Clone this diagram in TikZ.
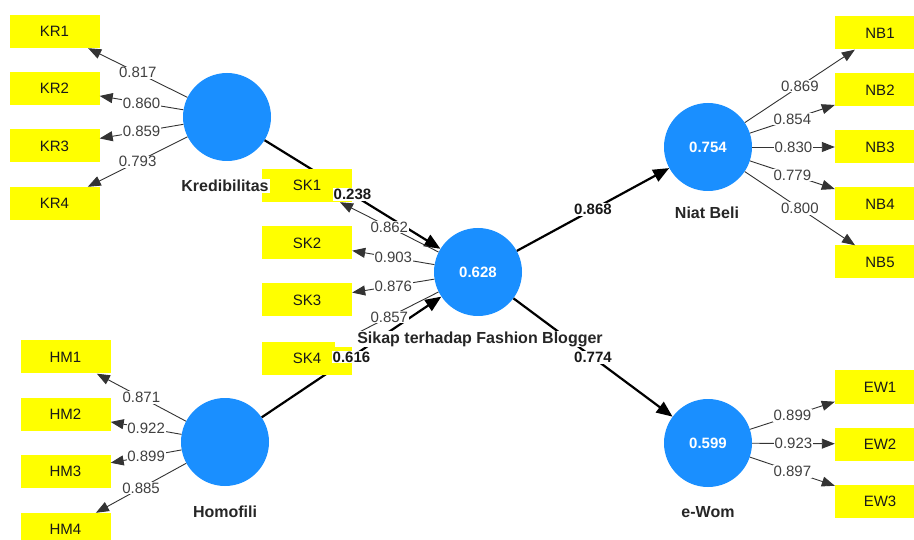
\documentclass[tikz,border=0pt]{standalone}
\usepackage{fontspec}
\setmainfont{Liberation Sans}
\usetikzlibrary{arrows.meta}
\definecolor{lvblue}{HTML}{1A8FFF}
\definecolor{mvyellow}{HTML}{FFFF00}
\begin{document}
\begin{tikzpicture}[x=1pt,y=-1pt,
 ind/.style={fill=mvyellow, minimum width=90pt, minimum height=33pt, inner sep=0pt, text=black!90, font=\fontsize{15}{18}\selectfont},
 lv/.style={circle, fill=lvblue, minimum size=88pt, inner sep=0pt, text=white, font=\bfseries\fontsize{15}{18}\selectfont},
 lvlabel/.style={fill=white, inner sep=1.5pt, text=black!85, font=\bfseries\fontsize{16}{19}\selectfont},
 loadarrow/.style={draw=black!80, line width=0.9pt, -{Triangle[length=13pt,width=10pt]}},
 loadlab/.style={fill=white, inner sep=0.8pt, text=black!75, font=\fontsize{15}{18}\selectfont},
 innerarrow/.style={draw=black, line width=2.2pt, -{Triangle[length=16pt,width=13pt]}},
 innerlab/.style={fill=white, inner sep=1pt, text=black!90, font=\bfseries\fontsize{15}{18}\selectfont}]
\useasboundingbox[fill=white] (0,0) rectangle (914,540);

% latent variables
\node[lv] (kred) at (227,117) {};
\node[lv] (hom) at (225,442) {};
\node[lv] (sik) at (478,272) {0.628};
\node[lv] (nb) at (708,147) {0.754};
\node[lv] (ew) at (708,443) {0.599};

% inner model lines (under the boxes)
\draw[innerarrow] (kred) -- (sik);
\draw[innerarrow] (hom) -- (sik);
\draw[innerarrow] (sik) -- (nb);
\draw[innerarrow] (sik) -- (ew);

% indicator boxes
\node[ind] (kr1) at (54.5,31.5) {KR1};
\node[ind] (kr2) at (54.5,88.5) {KR2};
\node[ind] (kr3) at (54.5,146) {KR3};
\node[ind] (kr4) at (54.5,203.5) {KR4};
\node[ind] (hm1) at (65.5,357) {HM1};
\node[ind] (hm2) at (65.5,414) {HM2};
\node[ind] (hm3) at (65.5,471) {HM3};
\node[ind] (hm4) at (65.5,529.5) {HM4};
\node[ind] (sk1) at (307,185.5) {SK1};
\node[ind] (sk2) at (307,243) {SK2};
\node[ind] (sk3) at (307,300) {SK3};
\node[ind] (sk4) at (307,358.5) {SK4};
\node[ind] (nb1) at (880,33) {NB1};
\node[ind] (nb2) at (880,90) {NB2};
\node[ind] (nb3) at (880,147) {NB3};
\node[ind] (nb4) at (880,204) {NB4};
\node[ind] (nb5) at (880,262) {NB5};
\node[ind] (ew1) at (880,387) {EW1};
\node[ind] (ew2) at (880,444) {EW2};
\node[ind] (ew3) at (880,501) {EW3};

% outer loadings
\draw[loadarrow] (kred) -- node[loadlab]{0.817} (kr1);
\draw[loadarrow] (kred) -- node[loadlab]{0.860} (kr2);
\draw[loadarrow] (kred) -- node[loadlab]{0.859} (kr3);
\draw[loadarrow] (kred) -- node[loadlab]{0.793} (kr4);
\draw[loadarrow] (hom) -- node[loadlab]{0.871} (hm1);
\draw[loadarrow] (hom) -- node[loadlab]{0.922} (hm2);
\draw[loadarrow] (hom) -- node[loadlab]{0.899} (hm3);
\draw[loadarrow] (hom) -- node[loadlab]{0.885} (hm4);
\draw[loadarrow] (sik) -- node[loadlab]{0.862} (sk1);
\draw[loadarrow] (sik) -- node[loadlab]{0.903} (sk2);
\draw[loadarrow] (sik) -- node[loadlab]{0.876} (sk3);
\draw[loadarrow] (sik) -- node[loadlab]{0.857} (sk4);
\draw[loadarrow] (nb) -- node[loadlab]{0.869} (nb1);
\draw[loadarrow] (nb) -- node[loadlab]{0.854} (nb2);
\draw[loadarrow] (nb) -- node[loadlab]{0.830} (nb3);
\draw[loadarrow] (nb) -- node[loadlab]{0.779} (nb4);
\draw[loadarrow] (nb) -- node[loadlab]{0.800} (nb5);
\draw[loadarrow] (ew) -- node[loadlab]{0.899} (ew1);
\draw[loadarrow] (ew) -- node[loadlab]{0.923} (ew2);
\draw[loadarrow] (ew) -- node[loadlab]{0.897} (ew3);

% construct labels
\node[lvlabel] (kredlab) at (225,186) {Kredibilitas};
\node[lvlabel] (homlab) at (225,512) {Homofili};
\node[lvlabel, inner xsep=22pt, inner ysep=1pt] (siklab) at (480,339) {Sikap terhadap Fashion Blogger};
\node[lvlabel] (nblab) at (707,213) {Niat Beli};
\node[lvlabel] (ewlab) at (708,512) {e-Wom};

% path coefficients
\path (kred) -- node[innerlab]{0.238} (sik);
\path (hom) -- node[innerlab]{0.616} (sik);
\path (sik) -- node[innerlab]{0.868} (nb);
\path (sik) -- node[innerlab]{0.774} (ew);
\end{tikzpicture}
\end{document}
